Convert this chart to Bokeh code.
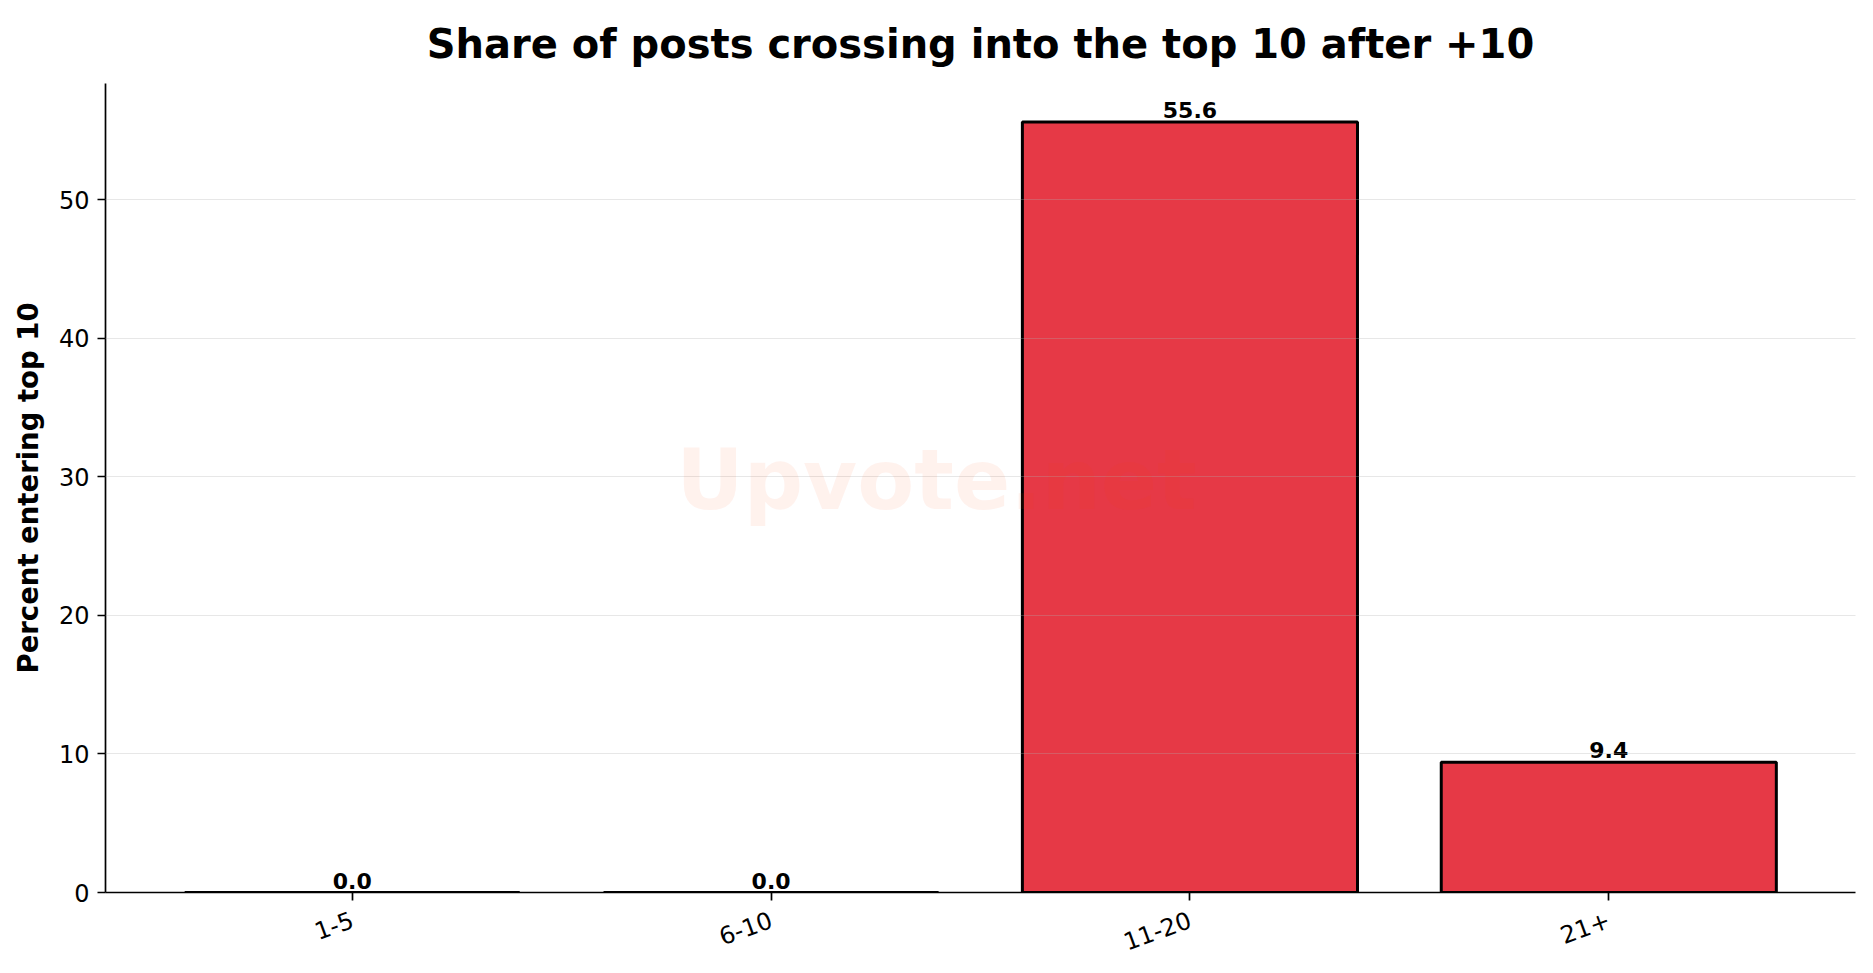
import math
from bokeh.plotting import figure
from bokeh.models import ColumnDataSource, FactorRange, Range1d, FixedTicker, Label
from bokeh.core.properties import value
from bokeh.embed import file_html
from bokeh.resources import INLINE

categories = ["1-5", "6-10", "11-20", "21+"]
percents = [0.0, 0.0, 55.6, 9.4]
y_ticks = [0, 10, 20, 30, 40, 50]
title_text = "Share of posts crossing into the top 10 after +10"

FONT = "DejaVu Sans"

labels = [f"{v:.1f}" for v in percents]
src = ColumnDataSource(dict(cat=categories, pct=percents, lab=labels))

y_top = max(percents) * 1.05

p = figure(
    width=1865, height=965,
    x_range=FactorRange(factors=categories, range_padding=0.0445, range_padding_units="percent"),
    y_range=Range1d(0, y_top),
    output_backend="svg", toolbar_location=None,
    min_border_left=105, min_border_right=10, min_border_top=83, min_border_bottom=73,
)
p.outline_line_color = None
p.background_fill_color = "white"

p.title.text = title_text
p.title.text_font = FONT
p.title.text_font_size = "40px"
p.title.text_font_style = "bold"
p.title.text_color = "black"
p.title.align = "center"
p.title.vertical_align = "middle"
p.title.standoff = 31

p.vbar(x="cat", top="pct", width=0.8, source=src, fill_color="#e63946",
       line_color="black", line_width=3)

p.text(x="cat", y="pct", text="lab", source=src, text_align="center",
       text_baseline="bottom", y_offset=-4, text_font=value(FONT),
       text_font_size="22px", text_font_style="bold", text_color="black")

wm = Label(x=1.895, y=29.7, text="Upvote.net", text_font=FONT, text_font_size="83px",
           text_font_style="bold", text_color="#ff4500", text_alpha=0.07,
           text_align="center", text_baseline="middle")
p.add_layout(wm)

p.xgrid.grid_line_color = None
p.ygrid.grid_line_color = "#b0b0b0"
p.ygrid.grid_line_alpha = 0.3
p.ygrid.grid_line_width = 1.2
p.ygrid.level = "guide"

p.yaxis.ticker = FixedTicker(ticks=y_ticks)
p.yaxis.minor_tick_line_color = None

for ax in (p.xaxis[0], p.yaxis[0]):
    ax.axis_line_width = 1.7
    ax.axis_line_color = "black"
    ax.major_tick_line_width = 1.7
    ax.major_tick_line_color = "black"
    ax.major_tick_out = 8
    ax.major_tick_in = 0
    ax.major_label_text_font = FONT
    ax.major_label_text_font_size = "24px"
    ax.major_label_text_color = "black"

p.xaxis.major_label_orientation = math.radians(20)
p.xaxis.major_label_standoff = 18
p.yaxis.major_label_standoff = 8

p.yaxis.axis_label = "Percent entering top 10"
p.yaxis.axis_label_text_font = FONT
p.yaxis.axis_label_text_font_size = "27.5px"
p.yaxis.axis_label_text_font_style = "bold"
p.yaxis.axis_label_text_color = "black"
p.yaxis.axis_label_standoff = 12

open("out.html", "w").write(file_html(p, INLINE))
